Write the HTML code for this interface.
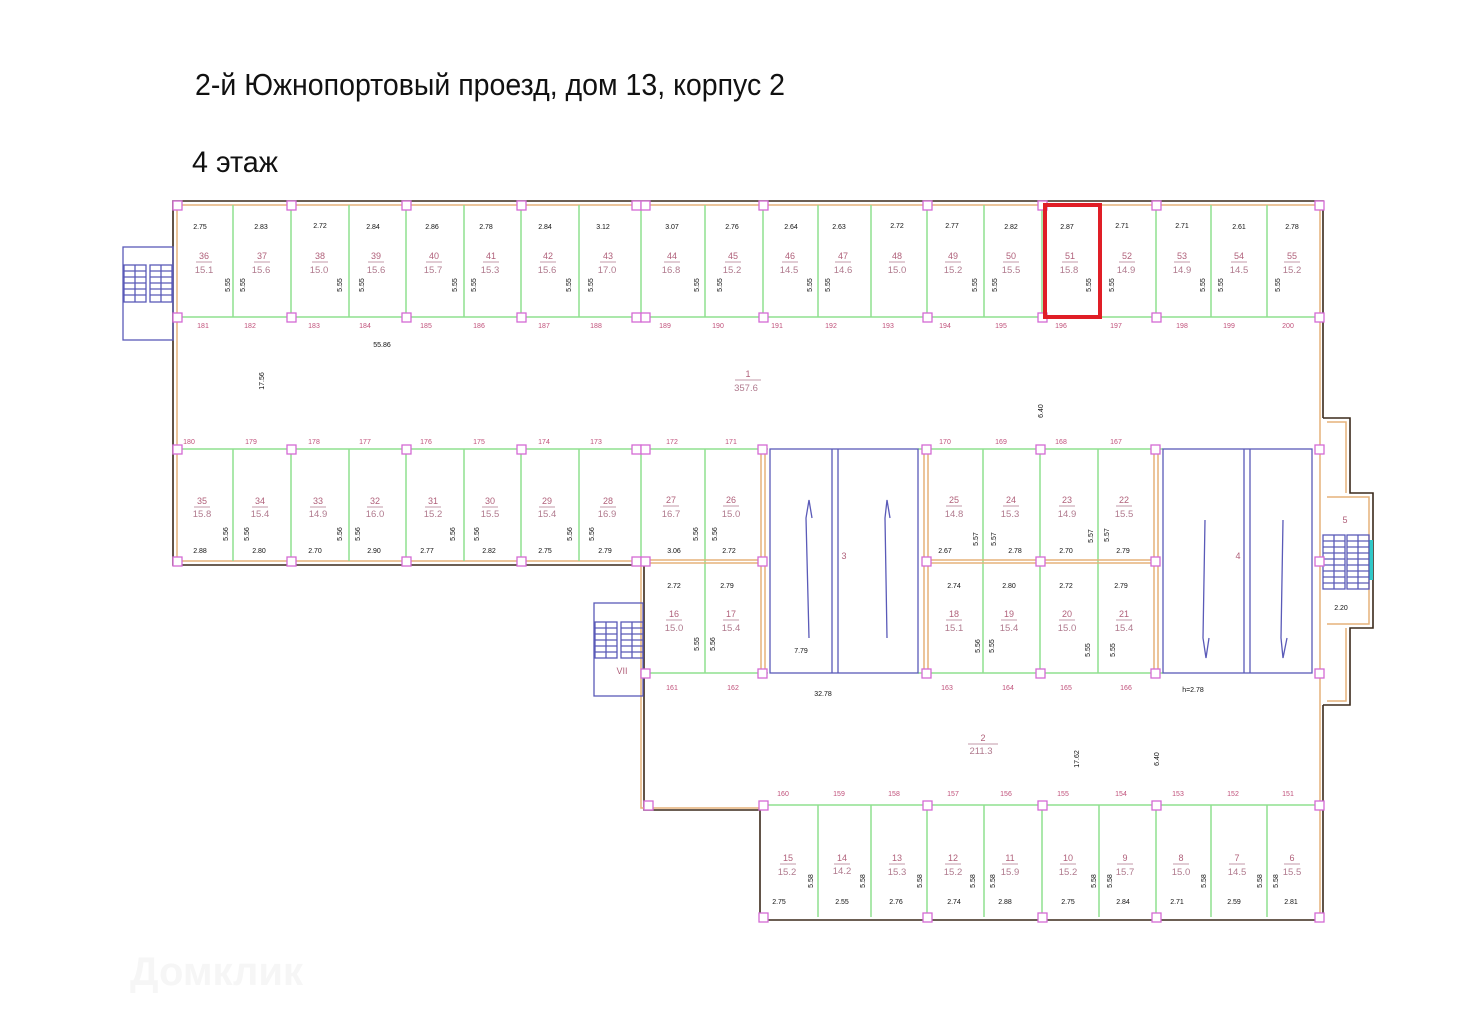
<!DOCTYPE html>
<html><head><meta charset="utf-8"><style>
html,body{margin:0;padding:0;background:#fff}
svg{display:block}
.g{stroke:#8fe08f;stroke-width:1.5;fill:none}
.o{stroke:#e6b27a;stroke-width:1.5;fill:none}
.b{stroke:#5a5ab8;stroke-width:1.3;fill:none}
.k{stroke:#3b2a1c;stroke-width:1.6;fill:none}
.p{stroke:#d46ad4;stroke-width:1.3;fill:#fff}
text{font-family:"Liberation Sans",sans-serif}
.n{font-size:9px;fill:#b0607a;text-anchor:middle}
.a{font-size:9.5px;fill:#b07a8e;text-anchor:middle}
.d{font-size:7px;fill:#111;text-anchor:middle}
.c{font-size:7px;fill:#c0507a;text-anchor:middle}
.u{stroke:#b07a8e;stroke-width:0.8}
</style></head><body>
<svg width="1467" height="1035" viewBox="0 0 1467 1035" xmlns="http://www.w3.org/2000/svg">
<text x="195" y="95" font-size="31" textLength="590" lengthAdjust="spacingAndGlyphs" fill="#111">2-й Южнопортовый проезд, дом 13, корпус 2</text>
<text x="192" y="172" font-size="30" textLength="86" lengthAdjust="spacingAndGlyphs" fill="#111">4 этаж</text>
<text x="130" y="985" font-size="40" font-weight="bold" fill="#f6f6f6">Домклик</text>

<!-- outer walls -->
<path class="k" d="M1323 418 V201 H173 V565 H644 V810 H760 V920 H1323 V705"/>
<path class="o" d="M177 205 H1320 V918 M177 205 V561 H641 M641 561 V808 H760"/>
<!-- right bump -->
<path class="k" d="M1323 418 H1350 V493 H1373 V628 H1350 V705 H1323"/>
<path class="o" d="M1327 422 H1346 V493 M1327 497 H1369 V624 H1327 M1346 628 V701 H1327"/>
<rect x="1369" y="540" width="4" height="40" fill="#30c8c8"/>

<!-- top row -->
<line class="g" x1="177" y1="317" x2="1320" y2="317"/>
<g class="g">
<line x1="233" y1="205" x2="233" y2="317"/><line x1="291" y1="205" x2="291" y2="317"/><line x1="349" y1="205" x2="349" y2="317"/><line x1="406" y1="205" x2="406" y2="317"/><line x1="464" y1="205" x2="464" y2="317"/><line x1="521" y1="205" x2="521" y2="317"/><line x1="579" y1="205" x2="579" y2="317"/><line x1="641" y1="205" x2="641" y2="317"/><line x1="705" y1="205" x2="705" y2="317"/><line x1="763" y1="205" x2="763" y2="317"/><line x1="818" y1="205" x2="818" y2="317"/><line x1="871" y1="205" x2="871" y2="317"/><line x1="927" y1="205" x2="927" y2="317"/><line x1="984" y1="205" x2="984" y2="317"/><line x1="1042" y1="205" x2="1042" y2="317"/><line x1="1099" y1="205" x2="1099" y2="317"/><line x1="1156" y1="205" x2="1156" y2="317"/><line x1="1211" y1="205" x2="1211" y2="317"/><line x1="1267" y1="205" x2="1267" y2="317"/>
</g>
<!-- middle row -->
<line class="g" x1="177" y1="449" x2="768" y2="449"/>
<line class="g" x1="918" y1="449" x2="1163" y2="449"/>
<g class="g">
<line x1="233" y1="449" x2="233" y2="561"/><line x1="291" y1="449" x2="291" y2="561"/><line x1="349" y1="449" x2="349" y2="561"/><line x1="406" y1="449" x2="406" y2="561"/><line x1="464" y1="449" x2="464" y2="561"/><line x1="521" y1="449" x2="521" y2="561"/><line x1="579" y1="449" x2="579" y2="561"/><line x1="641" y1="449" x2="641" y2="561"/><line x1="705" y1="449" x2="705" y2="673"/>
<line x1="983" y1="449" x2="983" y2="673"/><line x1="1040" y1="449" x2="1040" y2="673"/><line x1="1098" y1="449" x2="1098" y2="673"/>
<line x1="644" y1="673" x2="768" y2="673"/><line x1="918" y1="673" x2="1163" y2="673"/>
</g>
<g class="o">
<line x1="644" y1="560" x2="763" y2="560"/><line x1="644" y1="563" x2="763" y2="563"/>
<line x1="926" y1="560" x2="1156" y2="560"/><line x1="926" y1="563" x2="1156" y2="563"/>
<line x1="761" y1="449" x2="761" y2="673"/><line x1="765" y1="449" x2="765" y2="673"/>
<line x1="924" y1="449" x2="924" y2="673"/><line x1="928" y1="449" x2="928" y2="673"/>
<line x1="1154" y1="449" x2="1154" y2="673"/><line x1="1158" y1="449" x2="1158" y2="673"/>
</g>
<!-- lifts -->
<g class="b">
<rect x="770" y="449" width="148" height="224"/><line x1="832" y1="449" x2="832" y2="673"/><line x1="838" y1="449" x2="838" y2="673"/>
<rect x="1163" y="449" width="149" height="224"/><line x1="1244" y1="449" x2="1244" y2="673"/><line x1="1250" y1="449" x2="1250" y2="673"/>
<path d="M809 638 L806 518 L809 500 L812 518"/><path d="M887 638 L885 518 L887 500 L890 518"/>
<path d="M1205 520 L1203 638 L1206 658 L1209 638"/><path d="M1283 520 L1281 638 L1283 658 L1287 638"/>
</g>
<!-- bottom row -->
<line class="g" x1="760" y1="805" x2="1320" y2="805"/>
<g class="g">
<line x1="818" y1="805" x2="818" y2="917"/><line x1="871" y1="805" x2="871" y2="917"/><line x1="927" y1="805" x2="927" y2="917"/><line x1="984" y1="805" x2="984" y2="917"/><line x1="1042" y1="805" x2="1042" y2="917"/><line x1="1099" y1="805" x2="1099" y2="917"/><line x1="1156" y1="805" x2="1156" y2="917"/><line x1="1211" y1="805" x2="1211" y2="917"/><line x1="1267" y1="805" x2="1267" y2="917"/>
</g>

<!-- stairs -->
<g class="b">
<rect x="123" y="247" width="50" height="93"/>
<rect x="124" y="265" width="22" height="37"/><rect x="150" y="265" width="22" height="37"/>
<path d="M124 271H146M124 277H146M124 283H146M124 289H146M124 295H146M135 265V302M150 271H172M150 277H172M150 283H172M150 289H172M150 295H172M161 265V302"/>
<rect x="594" y="603" width="49" height="93"/>
<rect x="595" y="622" width="22" height="36"/><rect x="621" y="622" width="22" height="36"/>
<path d="M595 628H617M595 634H617M595 640H617M595 646H617M595 652H617M606 622V658M621 628H643M621 634H643M621 640H643M621 646H643M621 652H643M632 622V658"/>
<rect x="1323" y="535" width="22" height="54"/><rect x="1347" y="535" width="22" height="54"/>
<path d="M1323 541H1345M1323 547H1345M1323 553H1345M1323 559H1345M1323 565H1345M1323 571H1345M1323 577H1345M1323 583H1345M1334 535V589M1347 541H1369M1347 547H1369M1347 553H1369M1347 559H1369M1347 565H1369M1347 571H1369M1347 577H1369M1347 583H1369M1358 535V589"/>
</g>

<!-- pink squares -->
<g class="p">
<rect x="173" y="201" width="9" height="9"/><rect x="287" y="201" width="9" height="9"/><rect x="402" y="201" width="9" height="9"/><rect x="517" y="201" width="9" height="9"/><rect x="632" y="201" width="9" height="9"/><rect x="641" y="201" width="9" height="9"/><rect x="759" y="201" width="9" height="9"/><rect x="923" y="201" width="9" height="9"/><rect x="1038" y="201" width="9" height="9"/><rect x="1152" y="201" width="9" height="9"/><rect x="1315" y="201" width="9" height="9"/>
<rect x="173" y="313" width="9" height="9"/><rect x="287" y="313" width="9" height="9"/><rect x="402" y="313" width="9" height="9"/><rect x="517" y="313" width="9" height="9"/><rect x="632" y="313" width="9" height="9"/><rect x="641" y="313" width="9" height="9"/><rect x="759" y="313" width="9" height="9"/><rect x="923" y="313" width="9" height="9"/><rect x="1038" y="313" width="9" height="9"/><rect x="1152" y="313" width="9" height="9"/><rect x="1315" y="313" width="9" height="9"/>
<rect x="173" y="445" width="9" height="9"/><rect x="287" y="445" width="9" height="9"/><rect x="402" y="445" width="9" height="9"/><rect x="517" y="445" width="9" height="9"/><rect x="632" y="445" width="9" height="9"/><rect x="641" y="445" width="9" height="9"/><rect x="758" y="445" width="9" height="9"/><rect x="922" y="445" width="9" height="9"/><rect x="1036" y="445" width="9" height="9"/><rect x="1151" y="445" width="9" height="9"/><rect x="1315" y="445" width="9" height="9"/>
<rect x="173" y="557" width="9" height="9"/><rect x="287" y="557" width="9" height="9"/><rect x="402" y="557" width="9" height="9"/><rect x="517" y="557" width="9" height="9"/><rect x="632" y="557" width="9" height="9"/><rect x="641" y="557" width="9" height="9"/><rect x="758" y="557" width="9" height="9"/><rect x="922" y="557" width="9" height="9"/><rect x="1036" y="557" width="9" height="9"/><rect x="1151" y="557" width="9" height="9"/><rect x="1315" y="557" width="9" height="9"/>
<rect x="641" y="669" width="9" height="9"/><rect x="758" y="669" width="9" height="9"/><rect x="922" y="669" width="9" height="9"/><rect x="1036" y="669" width="9" height="9"/><rect x="1151" y="669" width="9" height="9"/><rect x="1315" y="669" width="9" height="9"/>
<rect x="644" y="801" width="9" height="9"/><rect x="759" y="801" width="9" height="9"/><rect x="923" y="801" width="9" height="9"/><rect x="1038" y="801" width="9" height="9"/><rect x="1152" y="801" width="9" height="9"/><rect x="1315" y="801" width="9" height="9"/>
<rect x="759" y="913" width="9" height="9"/><rect x="923" y="913" width="9" height="9"/><rect x="1038" y="913" width="9" height="9"/><rect x="1152" y="913" width="9" height="9"/><rect x="1315" y="913" width="9" height="9"/>
</g>

<!-- red highlight -->
<rect x="1045" y="205" width="55" height="112" fill="none" stroke="#e01e26" stroke-width="4"/>

<!-- top row texts -->
<g class="d">
<text x="200" y="229">2.75</text><text x="261" y="229">2.83</text><text x="320" y="228">2.72</text><text x="373" y="229">2.84</text><text x="432" y="229">2.86</text><text x="486" y="229">2.78</text><text x="545" y="229">2.84</text><text x="603" y="229">3.12</text><text x="672" y="229">3.07</text><text x="732" y="229">2.76</text><text x="791" y="229">2.64</text><text x="839" y="229">2.63</text><text x="897" y="228">2.72</text><text x="952" y="228">2.77</text><text x="1011" y="229">2.82</text><text x="1067" y="229">2.87</text><text x="1122" y="228">2.71</text><text x="1182" y="228">2.71</text><text x="1239" y="229">2.61</text><text x="1292" y="229">2.78</text>
</g>
<g class="n">
<text x="204" y="259">36</text><text x="262" y="259">37</text><text x="320" y="259">38</text><text x="376" y="259">39</text><text x="434" y="259">40</text><text x="491" y="259">41</text><text x="548" y="259">42</text><text x="608" y="259">43</text><text x="672" y="259">44</text><text x="733" y="259">45</text><text x="790" y="259">46</text><text x="843" y="259">47</text><text x="897" y="259">48</text><text x="953" y="259">49</text><text x="1011" y="259">50</text><text x="1070" y="259">51</text><text x="1127" y="259">52</text><text x="1182" y="259">53</text><text x="1239" y="259">54</text><text x="1292" y="259">55</text>
</g>
<g class="a">
<text x="204" y="273">15.1</text><text x="261" y="273">15.6</text><text x="319" y="273">15.0</text><text x="376" y="273">15.6</text><text x="433" y="273">15.7</text><text x="490" y="273">15.3</text><text x="547" y="273">15.6</text><text x="607" y="273">17.0</text><text x="671" y="273">16.8</text><text x="732" y="273">15.2</text><text x="789" y="273">14.5</text><text x="843" y="273">14.6</text><text x="897" y="273">15.0</text><text x="953" y="273">15.2</text><text x="1011" y="273">15.5</text><text x="1069" y="273">15.8</text><text x="1126" y="273">14.9</text><text x="1182" y="273">14.9</text><text x="1239" y="273">14.5</text><text x="1292" y="273">15.2</text>
</g>
<g class="c">
<text x="203" y="328">181</text><text x="250" y="328">182</text><text x="314" y="328">183</text><text x="365" y="328">184</text><text x="426" y="328">185</text><text x="479" y="328">186</text><text x="544" y="328">187</text><text x="596" y="328">188</text><text x="665" y="328">189</text><text x="718" y="328">190</text><text x="777" y="328">191</text><text x="831" y="328">192</text><text x="888" y="328">193</text><text x="945" y="328">194</text><text x="1001" y="328">195</text><text x="1061" y="328">196</text><text x="1116" y="328">197</text><text x="1182" y="328">198</text><text x="1229" y="328">199</text><text x="1288" y="328">200</text>
<text x="189" y="444">180</text><text x="251" y="444">179</text><text x="314" y="444">178</text><text x="365" y="444">177</text><text x="426" y="444">176</text><text x="479" y="444">175</text><text x="544" y="444">174</text><text x="596" y="444">173</text><text x="672" y="444">172</text><text x="731" y="444">171</text><text x="945" y="444">170</text><text x="1001" y="444">169</text><text x="1061" y="444">168</text><text x="1116" y="444">167</text>
<text x="672" y="690">161</text><text x="733" y="690">162</text><text x="947" y="690">163</text><text x="1008" y="690">164</text><text x="1066" y="690">165</text><text x="1126" y="690">166</text>
<text x="783" y="796">160</text><text x="839" y="796">159</text><text x="894" y="796">158</text><text x="953" y="796">157</text><text x="1006" y="796">156</text><text x="1063" y="796">155</text><text x="1121" y="796">154</text><text x="1178" y="796">153</text><text x="1233" y="796">152</text><text x="1288" y="796">151</text>
</g>

<!-- middle row texts -->
<g class="n">
<text x="202" y="504">35</text><text x="260" y="504">34</text><text x="318" y="504">33</text><text x="375" y="504">32</text><text x="433" y="504">31</text><text x="490" y="504">30</text><text x="547" y="504">29</text><text x="608" y="504">28</text><text x="671" y="503">27</text><text x="731" y="503">26</text>
<text x="954" y="503">25</text><text x="1011" y="503">24</text><text x="1067" y="503">23</text><text x="1124" y="503">22</text>
<text x="674" y="617">16</text><text x="731" y="617">17</text><text x="954" y="617">18</text><text x="1009" y="617">19</text><text x="1067" y="617">20</text><text x="1124" y="617">21</text>
<text x="788" y="861">15</text><text x="842" y="861">14</text><text x="897" y="861">13</text><text x="953" y="861">12</text><text x="1010" y="861">11</text><text x="1068" y="861">10</text><text x="1125" y="861">9</text><text x="1181" y="861">8</text><text x="1237" y="861">7</text><text x="1292" y="861">6</text>
<text x="748" y="377">1</text><text x="983" y="741">2</text><text x="844" y="559">3</text><text x="1238" y="559">4</text><text x="1345" y="523">5</text><text x="622" y="674">VII</text>
</g>
<g class="a">
<text x="202" y="517">15.8</text><text x="260" y="517">15.4</text><text x="318" y="517">14.9</text><text x="375" y="517">16.0</text><text x="433" y="517">15.2</text><text x="490" y="517">15.5</text><text x="547" y="517">15.4</text><text x="607" y="517">16.9</text><text x="671" y="517">16.7</text><text x="731" y="517">15.0</text>
<text x="954" y="517">14.8</text><text x="1010" y="517">15.3</text><text x="1067" y="517">14.9</text><text x="1124" y="517">15.5</text>
<text x="674" y="631">15.0</text><text x="731" y="631">15.4</text><text x="954" y="631">15.1</text><text x="1009" y="631">15.4</text><text x="1067" y="631">15.0</text><text x="1124" y="631">15.4</text>
<text x="787" y="875">15.2</text><text x="842" y="874">14.2</text><text x="897" y="875">15.3</text><text x="953" y="875">15.2</text><text x="1010" y="875">15.9</text><text x="1068" y="875">15.2</text><text x="1125" y="875">15.7</text><text x="1181" y="875">15.0</text><text x="1237" y="875">14.5</text><text x="1292" y="875">15.5</text>
<text x="746" y="391">357.6</text><text x="981" y="754">211.3</text>
</g>
<g class="d">
<text x="200" y="553">2.88</text><text x="259" y="553">2.80</text><text x="315" y="553">2.70</text><text x="374" y="553">2.90</text><text x="427" y="553">2.77</text><text x="489" y="553">2.82</text><text x="545" y="553">2.75</text><text x="605" y="553">2.79</text><text x="674" y="553">3.06</text><text x="729" y="553">2.72</text>
<text x="945" y="553">2.67</text><text x="1015" y="553">2.78</text><text x="1066" y="553">2.70</text><text x="1123" y="553">2.79</text>
<text x="674" y="588">2.72</text><text x="727" y="588">2.79</text><text x="954" y="588">2.74</text><text x="1009" y="588">2.80</text><text x="1066" y="588">2.72</text><text x="1121" y="588">2.79</text>
<text x="779" y="904">2.75</text><text x="842" y="904">2.55</text><text x="896" y="904">2.76</text><text x="954" y="904">2.74</text><text x="1005" y="904">2.88</text><text x="1068" y="904">2.75</text><text x="1123" y="904">2.84</text><text x="1177" y="904">2.71</text><text x="1234" y="904">2.59</text><text x="1291" y="904">2.81</text>
<text x="382" y="347">55.86</text><text x="801" y="653">7.79</text><text x="823" y="696">32.78</text><text x="1193" y="692">h=2.78</text><text x="1341" y="610">2.20</text>
</g>
<!-- vertical dims -->
<g class="d">
<text transform="translate(230,285) rotate(-90)">5.55</text><text transform="translate(245,285) rotate(-90)">5.55</text><text transform="translate(342,285) rotate(-90)">5.55</text><text transform="translate(364,285) rotate(-90)">5.55</text><text transform="translate(457,285) rotate(-90)">5.55</text><text transform="translate(476,285) rotate(-90)">5.55</text><text transform="translate(571,285) rotate(-90)">5.55</text><text transform="translate(593,285) rotate(-90)">5.55</text><text transform="translate(699,285) rotate(-90)">5.55</text><text transform="translate(722,285) rotate(-90)">5.55</text><text transform="translate(812,285) rotate(-90)">5.55</text><text transform="translate(830,285) rotate(-90)">5.55</text><text transform="translate(977,285) rotate(-90)">5.55</text><text transform="translate(997,285) rotate(-90)">5.55</text><text transform="translate(1091,285) rotate(-90)">5.55</text><text transform="translate(1114,285) rotate(-90)">5.55</text><text transform="translate(1205,285) rotate(-90)">5.55</text><text transform="translate(1223,285) rotate(-90)">5.55</text><text transform="translate(1280,285) rotate(-90)">5.55</text>
<text transform="translate(228,534) rotate(-90)">5.56</text><text transform="translate(249,534) rotate(-90)">5.56</text><text transform="translate(342,534) rotate(-90)">5.56</text><text transform="translate(360,534) rotate(-90)">5.56</text><text transform="translate(455,534) rotate(-90)">5.56</text><text transform="translate(479,534) rotate(-90)">5.56</text><text transform="translate(572,534) rotate(-90)">5.56</text><text transform="translate(594,534) rotate(-90)">5.56</text><text transform="translate(698,534) rotate(-90)">5.56</text><text transform="translate(717,534) rotate(-90)">5.56</text>
<text transform="translate(978,539) rotate(-90)">5.57</text><text transform="translate(996,539) rotate(-90)">5.57</text><text transform="translate(1093,536) rotate(-90)">5.57</text><text transform="translate(1109,535) rotate(-90)">5.57</text>
<text transform="translate(699,644) rotate(-90)">5.55</text><text transform="translate(715,644) rotate(-90)">5.56</text><text transform="translate(980,646) rotate(-90)">5.56</text><text transform="translate(994,646) rotate(-90)">5.55</text><text transform="translate(1090,650) rotate(-90)">5.55</text><text transform="translate(1115,650) rotate(-90)">5.55</text>
<text transform="translate(813,881) rotate(-90)">5.58</text><text transform="translate(865,881) rotate(-90)">5.58</text><text transform="translate(922,881) rotate(-90)">5.58</text><text transform="translate(975,881) rotate(-90)">5.58</text><text transform="translate(995,881) rotate(-90)">5.58</text><text transform="translate(1096,881) rotate(-90)">5.58</text><text transform="translate(1112,881) rotate(-90)">5.58</text><text transform="translate(1206,881) rotate(-90)">5.58</text><text transform="translate(1262,881) rotate(-90)">5.58</text><text transform="translate(1278,881) rotate(-90)">5.58</text>
<text transform="translate(264,381) rotate(-90)">17.56</text><text transform="translate(1043,411) rotate(-90)">6.40</text><text transform="translate(1079,759) rotate(-90)">17.62</text><text transform="translate(1159,759) rotate(-90)">6.40</text>
</g>
<!-- underlines -->
<g class="u">
<path d="M196 262H212M254 262H270M312 262H328M368 262H384M426 262H442M483 262H499M540 262H556M600 262H616M664 262H680M725 262H741M782 262H798M835 262H851M889 262H905M945 262H961M1003 262H1019M1062 262H1078M1119 262H1135M1174 262H1190M1231 262H1247M1284 262H1300"/>
<path d="M194 507H210M252 507H268M310 507H326M367 507H383M425 507H441M482 507H498M539 507H555M600 507H616M663 506H679M723 506H739M946 506H962M1003 506H1019M1059 506H1075M1116 506H1132"/>
<path d="M666 620H682M723 620H739M946 620H962M1001 620H1017M1059 620H1075M1116 620H1132"/>
<path d="M780 864H796M834 864H850M889 864H905M945 864H961M1002 864H1018M1060 864H1076M1117 864H1133M1173 864H1189M1229 864H1245M1284 864H1300"/>
<path d="M735 380H761M968 744H998"/>
</g>
</svg>
</body></html>
